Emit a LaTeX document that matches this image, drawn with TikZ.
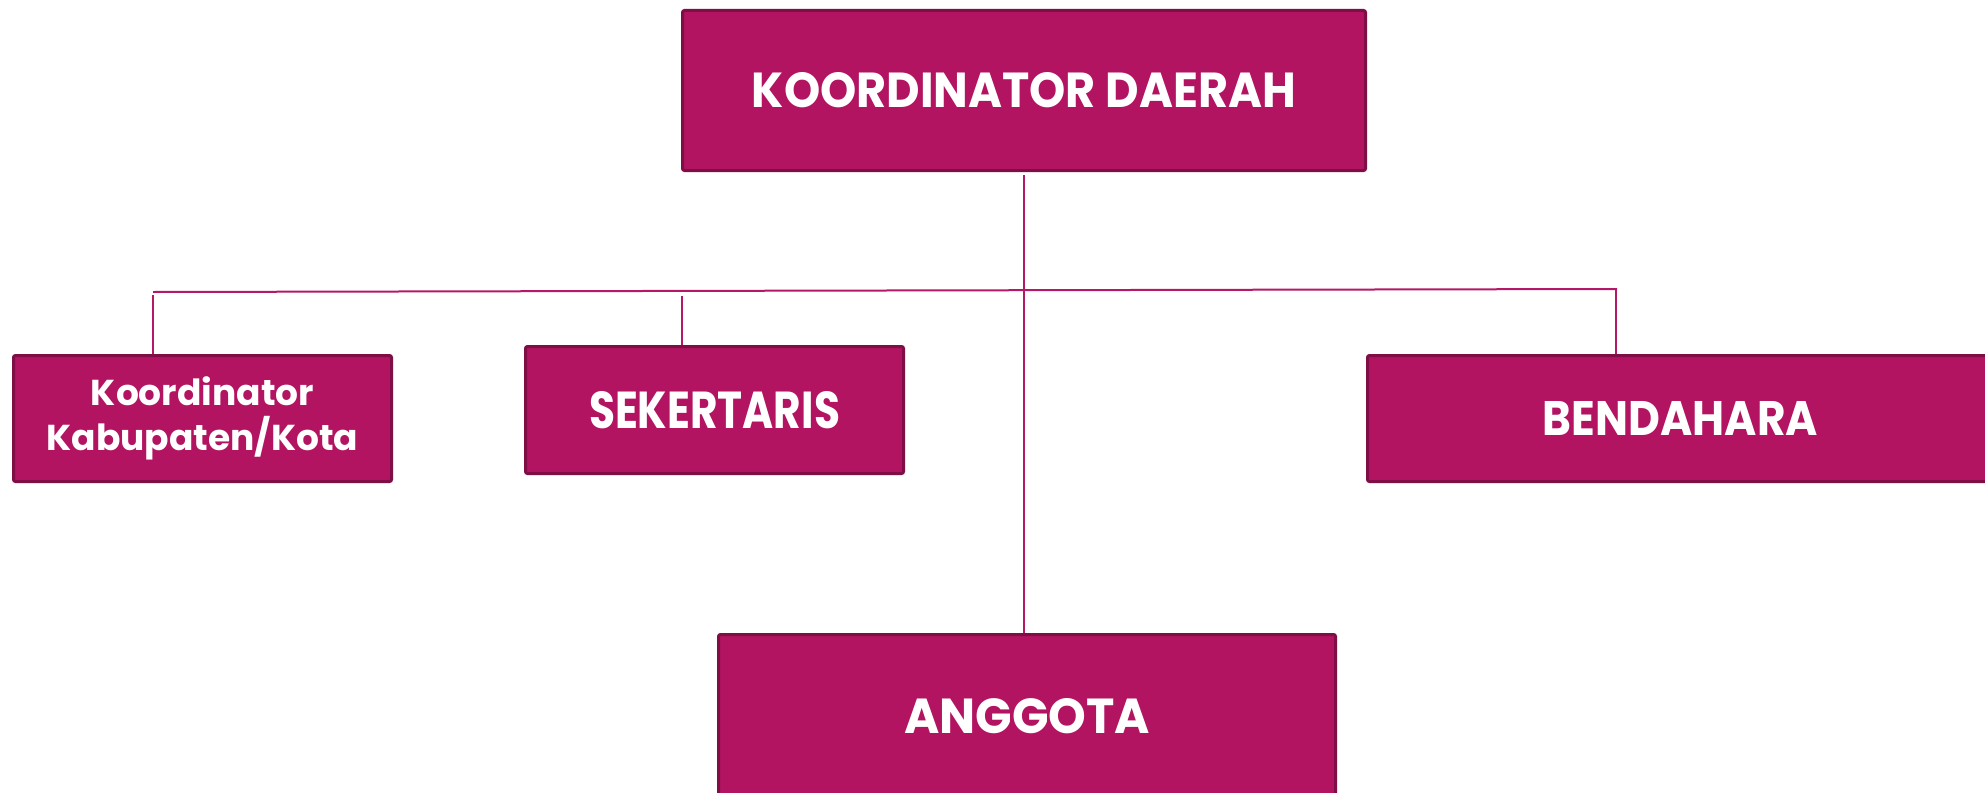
\documentclass[tikz,border=0pt]{standalone}
\usepackage{fontspec}
\setmainfont{Poppins}
\usepackage{graphicx}
\definecolor{boxfill}{RGB}{178,20,98}
\definecolor{boxedge}{RGB}{128,14,70}
\definecolor{linkcol}{RGB}{180,24,102}
\newcommand{\fitlabel}[3]{\resizebox{#1pt}{#2pt}{\bfseries #3}}
\begin{document}
\begin{tikzpicture}[x=1pt,y=-1pt,
  orgbox/.style={draw=boxedge, fill=boxfill, line width=3pt, rounded corners=2pt,
                 text=white, inner sep=0pt, align=center, font=\bfseries},
  link/.style={draw=linkcol, line width=2pt}]
\useasboundingbox (0,0) rectangle (1985,792);
\clip (0,0) rectangle (1985,792);
\fill[white] (0,0) rectangle (1985,792);

\node[orgbox, minimum width=683pt, minimum height=160pt] (koor) at (1024,90.5)
  {\fitlabel{544}{35}{KOORDINATOR DAERAH}};
\node[orgbox, minimum width=378pt, minimum height=126pt,
      font=\bfseries\fontsize{36}{45}\selectfont] (kab) at (202.5,418.5)
  {Koordinator\\Kabupaten/Kota};
\node[orgbox, minimum width=378pt, minimum height=127pt] (sek) at (714.5,410)
  {\fitlabel{251}{37}{SEKERTARIS}};
\node[orgbox, minimum width=626pt, minimum height=126pt] (bend) at (1680.5,418.5)
  {\fitlabel{275}{34}{BENDAHARA}};
\node[orgbox, minimum width=617pt, minimum height=164pt] (ang) at (1027,716.5)
  {\fitlabel{246}{35}{ANGGOTA}};

\coordinate (hl) at (153,292);
\coordinate (hr) at (1617,289);
\coordinate (kabc) at (153,295);
\coordinate (sekc) at (682,296);
\coordinate (bendc) at (1616,290);
\coordinate (koorc) at (1024,175);

\draw[link] (hl) -- (hr);
\draw[link] (kabc) -- (kabc |- kab.north);
\draw[link] (sekc) -- (sekc |- sek.north);
\draw[link] (bendc) -- (bendc |- bend.north);
\draw[link] (koorc) -- (koorc |- ang.north);
\end{tikzpicture}
\end{document}
